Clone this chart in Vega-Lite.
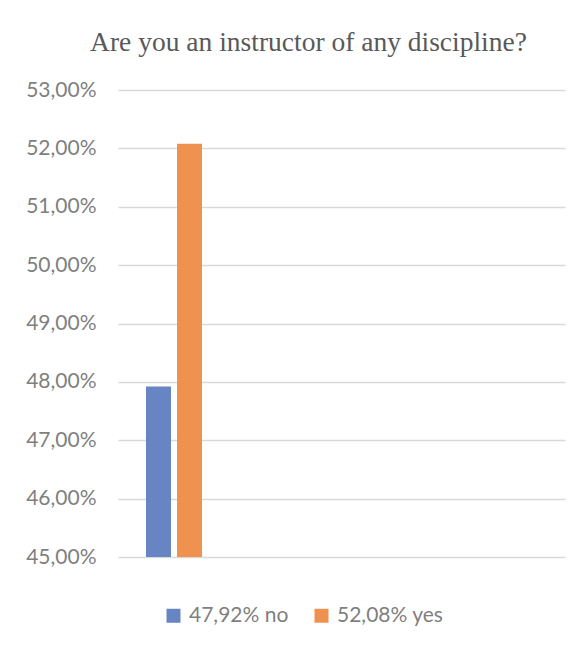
{
  "$schema": "https://vega.github.io/schema/vega-lite/v6.json",
  "width": 447,
  "height": 467,
  "autosize": {"type": "none"},
  "padding": {"left": 118, "top": 90, "right": 22, "bottom": 94},
  "background": "white",
  "title": {
    "text": "Are you an instructor of any discipline?",
    "font": "Liberation Serif",
    "fontSize": 27.5,
    "fontWeight": "normal",
    "color": "#595959",
    "anchor": "middle",
    "dx": -33,
    "offset": 23
  },
  "data": {
    "values": [
      {"question": "Are you an instructor of any discipline?", "answer": "no", "label": "47,92% no", "value": 0.4792},
      {"question": "Are you an instructor of any discipline?", "answer": "yes", "label": "52,08% yes", "value": 0.5208}
    ]
  },
  "mark": {"type": "bar", "clip": true},
  "encoding": {
    "x": {
      "field": "question",
      "type": "nominal",
      "axis": null,
      "scale": {"paddingInner": 0.5, "paddingOuter": 1, "align": 0.0316}
    },
    "xOffset": {
      "field": "answer",
      "type": "nominal",
      "scale": {"paddingInner": 0.1935, "paddingOuter": 0.5385}
    },
    "y": {
      "field": "value",
      "type": "quantitative",
      "scale": {"domain": [0.45, 0.53], "zero": false, "nice": false},
      "axis": {
        "title": null,
        "values": [0.45, 0.46, 0.47, 0.48, 0.49, 0.5, 0.51, 0.52, 0.53],
        "labelExpr": "replace(format(datum.value, '.2%'), '.', ',')",
        "domain": false,
        "ticks": false,
        "grid": true,
        "gridColor": "#d9d9d9",
        "gridWidth": 1.5,
        "labelFont": "Lato",
        "labelFontSize": 21,
        "labelColor": "#7f7f7f",
        "labelPadding": 22
      }
    },
    "color": {
      "field": "label",
      "type": "nominal",
      "scale": {"range": ["#6784c3", "#f0924f"]},
      "legend": {
        "orient": "none",
        "legendX": 45,
        "legendY": 515,
        "direction": "horizontal",
        "title": null,
        "symbolType": "square",
        "symbolSize": 196,
        "symbolStrokeWidth": 0,
        "symbolOpacity": 1,
        "labelFont": "Lato",
        "labelFontSize": 21,
        "labelColor": "#7f7f7f",
        "labelOffset": 5,
        "columnPadding": 22
      }
    }
  },
  "config": {"view": {"stroke": null}}
}
